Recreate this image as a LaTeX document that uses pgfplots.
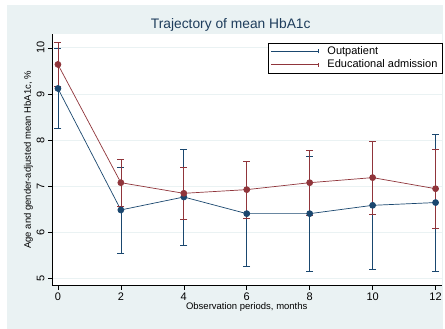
\documentclass[border=0pt]{standalone}
\usepackage{pgfplots}
\pgfplotsset{compat=1.18}
\usepackage{fontspec}
\setmainfont{Liberation Sans}
\definecolor{bgc}{HTML}{EAF2F3}
\definecolor{navy}{HTML}{1A476F}
\definecolor{maroon}{HTML}{90353B}
\definecolor{ttl}{HTML}{1E3D5C}

\begin{document}
\begin{tikzpicture}
% graph region
\fill[white] (0pt,0pt) rectangle (445pt,329pt);
\fill[bgc] (7pt,0pt) rectangle (443pt,324pt);
\node[text=ttl, font=\fontsize{13.8}{16}\selectfont] at (231pt,304pt) {Trajectory of mean HbA1c};
\begin{axis}[
  at={(52pt,43pt)}, anchor=south west,
  scale only axis, width=390pt, height=252pt,
  xmin=-0.19, xmax=12.19, ymin=4.85, ymax=10.30,
  axis lines*=left,
  axis line style={black, line width=0.8pt},
  axis background/.style={fill=white},
  xtick={0,2,...,12}, ytick={5,...,10},
  tick align=outside, tick pos=left,
  major tick length=4pt,
  tick style={black, line width=0.6pt},
  ymajorgrids, grid style={bgc, line width=0.8pt},
  /pgf/number format/assume math mode=true,
  tick label style={font=\fontsize{11}{13}\selectfont},
  yticklabel style={rotate=90, anchor=south},
  xlabel={Observation periods, months},
  ylabel={Age and gender-adjusted mean HbA1c, \%},
  label style={font=\fontsize{9.5}{11}\selectfont},
  xlabel style={yshift=5pt},
  ylabel style={yshift=-3pt},
  legend style={at={(1.003,0.965)}, anchor=north east, draw=black, line width=0.6pt,
    fill=white, font=\fontsize{11}{13}\selectfont, row sep=0pt,
    inner xsep=3pt, inner ysep=1.5pt,
    /tikz/every odd column/.append style={column sep=7pt}},
  legend cell align=left,
  legend image code/.code={
    \draw[#1, line width=0.6pt] (0pt,0pt) -- (47pt,0pt);
    \draw[#1, line width=0.6pt] (47pt,-2pt) -- (47pt,2pt);},
]
\addplot+[navy, line width=0.7pt, mark=*, mark size=3pt,
  mark options={fill=navy, draw=navy},
  error bars/.cd, y dir=both, y explicit,
  error bar style={line width=0.7pt, navy}, error mark options={rotate=90, mark size=3.5pt, navy}]
  coordinates {
  (0,9.12) +- (0,0.87)
  (2,6.49) +- (0,0.93)
  (4,6.77) +- (0,1.04)
  (6,6.41) +- (0,1.13)
  (8,6.41) +- (0,1.25)
  (10,6.59) +- (0,1.38)
  (12,6.65) +- (0,1.49)
  };
\addlegendentry{Outpatient}
\addplot+[maroon, line width=0.7pt, mark=*, mark size=3pt,
  mark options={fill=maroon, draw=maroon},
  error bars/.cd, y dir=both, y explicit,
  error bar style={line width=0.7pt, maroon}, error mark options={rotate=90, mark size=3.5pt, maroon}]
  coordinates {
  (0,9.64) +- (0,0.48)
  (2,7.08) +- (0,0.50)
  (4,6.85) +- (0,0.56)
  (6,6.93) +- (0,0.62)
  (8,7.08) +- (0,0.70)
  (10,7.19) +- (0,0.79)
  (12,6.95) +- (0,0.86)
  };
\addlegendentry{Educational admission}
\end{axis}
\end{tikzpicture}
\end{document}
